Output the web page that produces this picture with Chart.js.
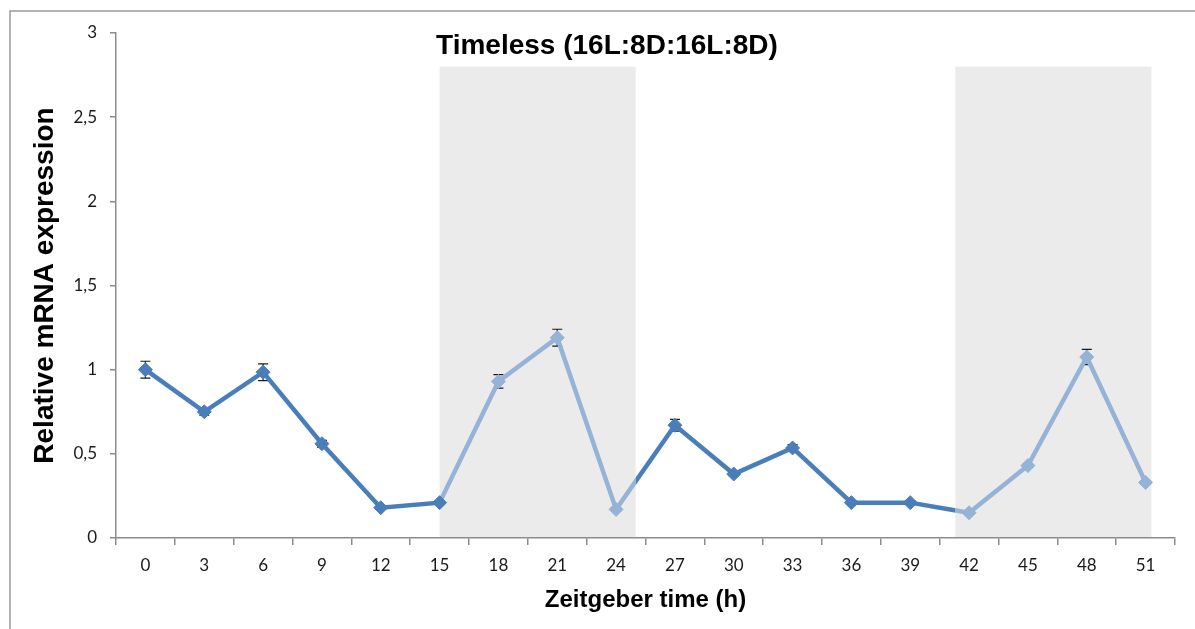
<!DOCTYPE html>
<html>
<head>
<meta charset="utf-8">
<title>Timeless (16L:8D:16L:8D)</title>
<script src="https://cdn.jsdelivr.net/npm/chart.js@4.4.1/dist/chart.umd.min.js"></script>
<style>
  html, body { margin: 0; padding: 0; background: #fff; }
  #wrap { position: relative; width: 1195px; height: 629px; }
</style>
</head>
<body>
<div id="wrap"><canvas id="timelessChart"></canvas></div>
<script>
// Zeitgeber time (h)
var zeitgeberTime = ['0', '3', '6', '9', '12', '15', '18', '21', '24', '27', '30', '33', '36', '39', '42', '45', '48', '51'];
// relative mRNA expression
var expression = [1.00, 0.75, 0.985, 0.56, 0.18, 0.21, 0.93, 1.19, 0.17, 0.67, 0.38, 0.535, 0.21, 0.21, 0.15, 0.43, 1.075, 0.33];
// error bar (+/-)
var errors = [0.05, 0.02, 0.05, 0.02, 0.01, 0.01, 0.04, 0.05, 0.01, 0.035, 0.01, 0.02, 0.01, 0.01, 0.01, 0.01, 0.045, 0.01];
// y axis ticks
var yTicks = [0, 0.5, 1, 1.5, 2, 2.5, 3];
// dark phases, in hours
var darkPhases = [[15, 25], [41.3, 51.3]];
var darkPhaseTop = 2.8;

var LIGHT_COLOR = '#4a7ebb';
var DARK_COLOR = '#95b3d7';

function isDark(hour) {
    return darkPhases.some(function (p) { return hour > p[0] && hour <= p[1]; });
}

var pointColors = zeitgeberTime.map(function (t) {
    return isDark(Number(t)) ? DARK_COLOR : LIGHT_COLOR;
});

// line colour switches at the borders of the grey boxes
function lineColor(context) {
    var chart = context.chart;
    var area = chart.chartArea;
    var x = chart.scales.x;
    if (!area || !x) return LIGHT_COLOR;
    var g = chart.ctx.createLinearGradient(area.left, 0, area.right, 0);
    var w = area.right - area.left;
    g.addColorStop(0, LIGHT_COLOR);
    darkPhases.forEach(function (p) {
        var a = Math.min(Math.max((x.getPixelForValue(p[0] / 3) - area.left) / w, 0), 1);
        var b = Math.min(Math.max((x.getPixelForValue(p[1] / 3) - area.left) / w, 0), 1);
        g.addColorStop(a, LIGHT_COLOR);
        g.addColorStop(a, DARK_COLOR);
        g.addColorStop(b, DARK_COLOR);
        g.addColorStop(b, LIGHT_COLOR);
    });
    g.addColorStop(1, LIGHT_COLOR);
    return g;
}

// grey boxes + error bars, drawn under the line and markers
var darkBoxes = {
    id: 'darkBoxes',
    beforeDatasetsDraw: function (chart) {
        var c = chart.ctx, x = chart.scales.x, y = chart.scales.y;
        c.save();
        c.fillStyle = '#ebebeb';
        darkPhases.forEach(function (p) {
            var x0 = x.getPixelForValue(p[0] / 3);
            var x1 = x.getPixelForValue(p[1] / 3);
            var y0 = y.getPixelForValue(darkPhaseTop);
            var y1 = y.getPixelForValue(0) - 1;
            c.fillRect(x0, y0, x1 - x0, y1 - y0);
        });
        c.strokeStyle = '#1a1a1a';
        c.lineWidth = 1.2;
        expression.forEach(function (v, i) {
            var px = x.getPixelForValue(i);
            var top = y.getPixelForValue(v + errors[i]);
            var bot = y.getPixelForValue(v - errors[i]);
            c.beginPath();
            c.moveTo(px, top); c.lineTo(px, bot);
            c.moveTo(px - 5, top); c.lineTo(px + 5, top);
            c.moveTo(px - 5, bot); c.lineTo(px + 5, bot);
            c.stroke();
        });
        c.restore();
    }
};

var frameAndTitle = {
    id: 'frameAndTitle',
    afterDraw: function (chart) {
        var c = chart.ctx;
        c.save();
        c.strokeStyle = '#9a9a9a';
        c.lineWidth = 1.5;
        c.beginPath();
        c.moveTo(1195, 11);
        c.lineTo(10, 11);
        c.lineTo(10, 629);
        c.stroke();
        c.fillStyle = '#000';
        c.font = 'bold 28px "Liberation Sans", Arial, sans-serif';
        c.textAlign = 'center';
        c.textBaseline = 'middle';
        c.fillText('Timeless (16L:8D:16L:8D)', 607, 46);
        c.restore();
    }
};

document.addEventListener('DOMContentLoaded', function () {
    new Chart(document.getElementById('timelessChart'), {
        type: 'line',
        data: {
            labels: zeitgeberTime,
            datasets: [{
                label: 'Timeless',
                data: expression,
                borderColor: lineColor,
                borderWidth: 4.5,
                pointStyle: 'rectRot',
                pointRadius: 7,
                pointBackgroundColor: pointColors,
                pointBorderColor: pointColors,
                pointBorderWidth: 1,
                tension: 0
            }]
        },
        options: {
            responsive: true,
            maintainAspectRatio: false,
            animation: false,
            layout: { padding: { left: 10, top: 33, right: 20, bottom: 0 } },
            plugins: {
                legend: { display: false },
                tooltip: { enabled: false }
            },
            scales: {
                x: {
                    type: 'category',
                    offset: true,
                    grid: { offset: true, drawOnChartArea: false, tickLength: 7, color: '#8c8c8c', lineWidth: 1.5 },
                    border: { color: '#8c8c8c', width: 1.5 },
                    ticks: { color: '#1a1a1a', font: { family: 'Lato', size: 17 }, padding: 10, maxRotation: 0 },
                    title: {
                        display: true,
                        text: 'Zeitgeber time (h)',
                        color: '#000',
                        font: { family: '"Liberation Sans", Arial', size: 24, weight: 'bold' },
                        padding: { top: 0, bottom: 14 }
                    },
                    afterFit: function (scale) { scale.height = 91; }
                },
                y: {
                    min: 0,
                    max: 3,
                    afterBuildTicks: function (scale) {
                        scale.ticks = yTicks.map(function (v) { return { value: v }; });
                    },
                    grid: { drawOnChartArea: false, tickLength: 6, color: '#8c8c8c', lineWidth: 1.5 },
                    border: { color: '#8c8c8c', width: 1.5 },
                    ticks: {
                        color: '#1a1a1a',
                        font: { family: 'Lato', size: 17 },
                        padding: 13,
                        callback: function (v) { return String(v).replace('.', ','); }
                    },
                    title: {
                        display: true,
                        text: 'Relative mRNA expression',
                        color: '#000',
                        font: { family: '"Liberation Sans", Arial', size: 28, weight: 'bold' },
                        padding: { top: 18, bottom: 0 }
                    },
                    afterFit: function (scale) { scale.width = 106; }
                }
            }
        },
        plugins: [darkBoxes, frameAndTitle]
    });
});
</script>
</body>
</html>
